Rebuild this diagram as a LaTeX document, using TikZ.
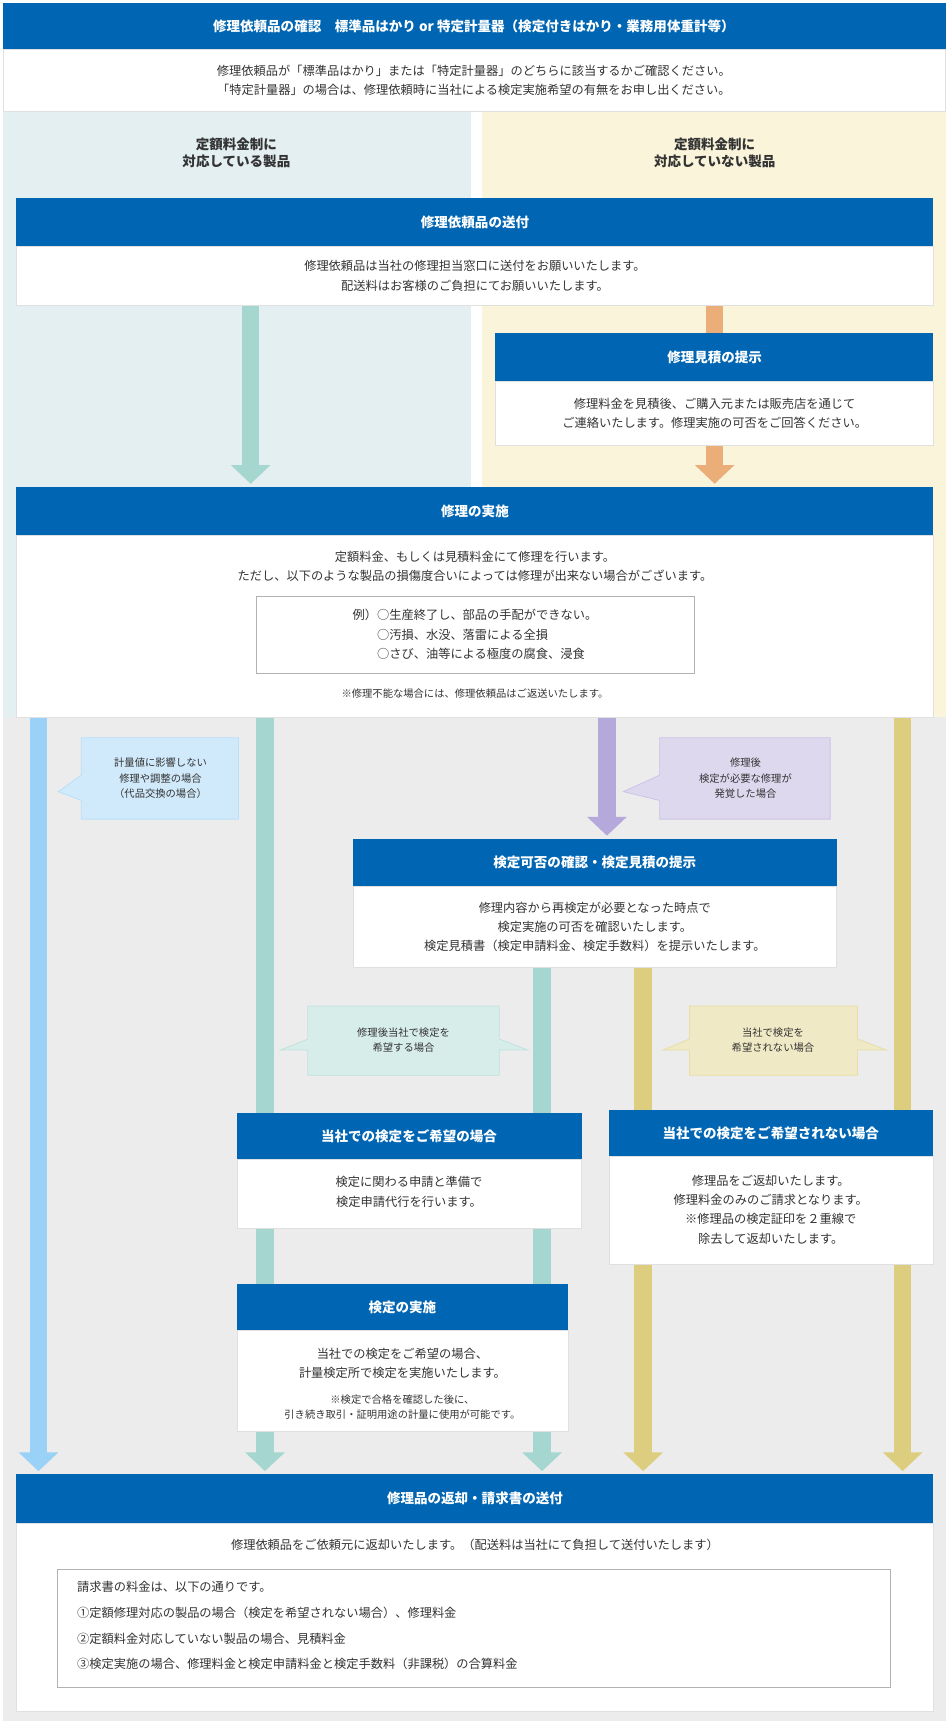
\documentclass[tikz,border=0pt]{standalone}
\usepackage{fontspec}
\setmainfont{Noto Sans CJK JP}
\usetikzlibrary{calc}

\definecolor{hdrblue}{HTML}{0066B3}
\definecolor{txtgray}{HTML}{333333}
\definecolor{bgteal}{HTML}{E3EFF0}
\definecolor{bgcream}{HTML}{FAF4DA}
\definecolor{bggray}{HTML}{ECECEC}
\definecolor{arteal}{HTML}{A5D6CF}
\definecolor{arblue}{HTML}{99D1F7}
\definecolor{arpurple}{HTML}{B5A9DB}
\definecolor{aryellow}{HTML}{DDCE7F}
\definecolor{arorange}{HTML}{ECAE78}

\tikzset{
  hdr/.style={fill=hdrblue},
  bdy/.style={fill=white, draw=black!12},
  htxt/.style={text=white, font=\bfseries\fontsize{10.5}{13}\selectfont, align=center},
  btxt/.style={text=txtgray, font=\fontsize{9.5}{15}\selectfont, align=center},
  stxt/.style={text=txtgray, font=\fontsize{8}{12}\selectfont, align=center},
  call/.style={fill=#1!45, draw=#1!70, line width=.6pt},
}

% thick arrow: colour, x, y start, y end
\newcommand\flowarrow[4]{%
  \fill[#1] (#2-8,#3) rectangle (#2+8,#4-16);
  \fill[#1] (#2-18,#4-17) -- (#2+18,#4-17) -- (#2,#4) -- cycle;}

\begin{document}
\begin{tikzpicture}[x=0.03cm, y=-0.03cm]
\useasboundingbox (0,0) rectangle (862,1568);

% backgrounds
\fill[bgteal] (3,101) rectangle (428,652);
\fill[bgcream] (438,101) rectangle (860,652);
\fill[bggray] (3,652) rectangle (860,1565);

% top
\path[hdr] (3,3) rectangle (860,45);
\node[htxt] (check) at (431,24) {修理依頼品の確認　標準品はかり or 特定計量器（検定付きはかり・業務用体重計等）};
\path[bdy] (3,45) rectangle (860,101);
\node[btxt] (checkbody) at (431,73) {修理依頼品が「標準品はかり」または「特定計量器」のどちらに該当するかご確認ください。\\「特定計量器」の場合は、修理依頼時に当社による検定実施希望の有無をお申し出ください。};

\node[htxt, text=txtgray] (colleft) at (215,139) {定額料金制に\\対応している製品};
\node[htxt, text=txtgray] (colright) at (650,139) {定額料金制に\\対応していない製品};

% arrows
\flowarrow{arteal}{228}{278}{440}
\flowarrow{arorange}{650}{278}{440}
\flowarrow{arblue}{35}{652}{1338}
\flowarrow{arteal}{241}{652}{1338}
\flowarrow{arpurple}{552}{652}{760}
\flowarrow{arteal}{493}{880}{1338}
\flowarrow{aryellow}{585}{880}{1338}
\flowarrow{aryellow}{821}{652}{1338}

% send
\path[hdr] (15,180) rectangle (849,224);
\node[htxt] (send) at (432,202) {修理依頼品の送付};
\path[bdy] (15,224) rectangle (849,278);
\node[btxt] (sendbody) at (432,251) {修理依頼品は当社の修理担当窓口に送付をお願いいたします。\\配送料はお客様のご負担にてお願いいたします。};

% estimate
\path[hdr] (450,303) rectangle (849,347);
\node[htxt] (estimate) at (650,325) {修理見積の提示};
\path[bdy] (450,347) rectangle (849,405);
\node[btxt] (estimatebody) at (650,376) {修理料金を見積後、ご購入元または販売店を通じて\\ご連絡いたします。修理実施の可否をご回答ください。};

% repair
\path[hdr] (15,443) rectangle (849,487);
\node[htxt] (repair) at (432,465) {修理の実施};
\path[bdy] (15,487) rectangle (849,652);
\node[btxt] (repairbody) at (432,515) {定額料金、もしくは見積料金にて修理を行います。\\ただし、以下のような製品の損傷度合いによっては修理が出来ない場合がございます。};
\draw[black!30, fill=white] (233,542) rectangle (631,612);
\node[btxt, align=left] (example) at (432,577) {例）○生産終了し、部品の手配ができない。\\\phantom{例）}○汚損、水没、落雷による全損\\\phantom{例）}○さび、油等による極度の腐食、浸食};
\node[stxt] (repairnote) at (432,631) {※修理不能な場合には、修理依頼品はご返送いたします。};

% callouts
\filldraw[call=arblue] (74,671) -- (217,671) -- (217,745) -- (74,745) -- (74,728) -- (53,720) -- (74,705) -- cycle;
\node[stxt] (nochange) at (146,708) {計量値に影響しない\\修理や調整の場合\\（代品交換の場合）};
\filldraw[call=arpurple] (600,671) -- (755,671) -- (755,745) -- (600,745) -- (600,728) -- (567,720) -- (600,705) -- cycle;
\node[stxt] (found) at (678,708) {修理後\\検定が必要な修理が\\発覚した場合};
\filldraw[call=arteal] (280,915) -- (454,915) -- (454,945) -- (480,955) -- (454,955) -- (454,978) -- (280,978) -- (280,955) -- (255,955) -- (280,945) -- cycle;
\node[stxt] (wish) at (367,946) {修理後当社で検定を\\希望する場合};
\filldraw[call=aryellow] (627,915) -- (780,915) -- (780,945) -- (806,955) -- (780,955) -- (780,978) -- (627,978) -- (627,955) -- (603,955) -- (627,945) -- cycle;
\node[stxt] (nowish) at (703,946) {当社で検定を\\希望されない場合};

% inspection check
\path[hdr] (321,763) rectangle (761,806);
\node[htxt] (insp) at (541,784) {検定可否の確認・検定見積の提示};
\path[bdy] (321,806) rectangle (761,880);
\node[btxt] (inspbody) at (541,843) {修理内容から再検定が必要となった時点で\\検定実施の可否を確認いたします。\\検定見積書（検定申請料金、検定手数料）を提示いたします。};

% hope
\path[hdr] (216,1012) rectangle (529,1054);
\node[htxt] (hope) at (372,1033) {当社での検定をご希望の場合};
\path[bdy] (216,1054) rectangle (529,1117);
\node[btxt] (hopebody) at (372,1084) {検定に関わる申請と準備で\\検定申請代行を行います。};

% no hope
\path[hdr] (554,1010) rectangle (849,1052);
\node[htxt] (nohope) at (701,1031) {当社での検定をご希望されない場合};
\path[bdy] (554,1052) rectangle (849,1150);
\node[btxt] (nohopebody) at (701,1100) {修理品をご返却いたします。\\修理料金のみのご請求となります。\\※修理品の検定証印を２重線で\\除去して返却いたします。};

% do inspection
\path[hdr] (216,1168) rectangle (517,1210);
\node[htxt] (doinsp) at (366,1189) {検定の実施};
\path[bdy] (216,1210) rectangle (517,1302);
\node[btxt] (doinspbody) at (366,1240) {当社での検定をご希望の場合、\\計量検定所で検定を実施いたします。};
\node[stxt] (doinspnote) at (366,1280) {※検定で合格を確認した後に、\\引き続き取引・証明用途の計量に使用が可能です。};

% return
\path[hdr] (15,1341) rectangle (849,1385);
\node[htxt] (return) at (432,1363) {修理品の返却・請求書の送付};
\path[bdy] (15,1385) rectangle (849,1556);
\node[btxt] (returnbody) at (432,1405) {修理依頼品をご依頼元に返却いたします。（配送料は当社にて負担して送付いたします）};
\draw[black!30, fill=white] (52,1427) rectangle (810,1535);
\node[btxt, anchor=north west, align=left, font=\fontsize{9.5}{20}\selectfont] (bill) at (66,1434) {請求書の料金は、以下の通りです。\\①定額修理対応の製品の場合（検定を希望されない場合）、修理料金\\②定額料金対応していない製品の場合、見積料金\\③検定実施の場合、修理料金と検定申請料金と検定手数料（非課税）の合算料金};
\end{tikzpicture}
\end{document}
